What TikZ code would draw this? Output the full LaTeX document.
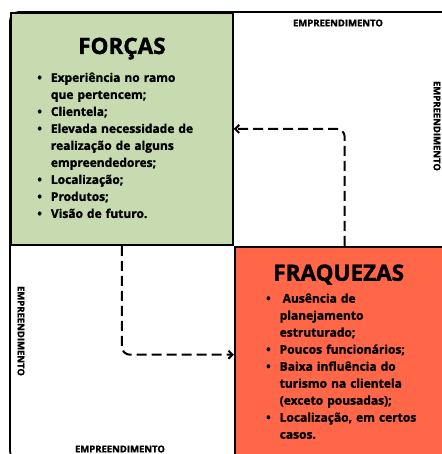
\documentclass[tikz,border=0pt]{standalone}
\usepackage{fontspec}
\setmainfont{Open Sans}[BoldFeatures={FakeBold=1.5}]
\usepackage{enumitem}
\usetikzlibrary{arrows.meta,positioning}
\definecolor{verdeforcas}{RGB}{199,218,176}
\definecolor{vermelhofraq}{RGB}{255,103,72}
\setlist[itemize]{label=\textbullet,leftmargin=13pt,labelsep=9pt,itemsep=0pt,topsep=0pt,parsep=0pt,partopsep=0pt}

\begin{document}
\begin{tikzpicture}[x=1pt,y=1pt,line width=1.8pt,
    quadrante/.style={draw,anchor=north west,inner sep=0pt},
    titulo/.style={font=\fontsize{22.5}{27}\selectfont\bfseries,anchor=base},
    lista/.style={font=\fontsize{12}{17}\selectfont\bfseries,text width=185pt,
        anchor=north west,inner sep=0pt,align=left},
    rotulo/.style={font=\fontsize{9.5}{11}\selectfont\bfseries},
    fluxo/.style={-{Straight Barb[length=4pt,width=8pt]},line width=2pt,dash pattern=on 10pt off 5pt,rounded corners=8pt}]
\useasboundingbox (0,0) rectangle (441,454);
% moldura
\draw[fill=white,rounded corners=9pt] (10,442) rectangle (452,-6);
\node[quadrante,fill=verdeforcas,minimum width=222pt,minimum height=232pt] (forcas) at (10,442) {};
\node[quadrante,fill=vermelhofraq,minimum width=220pt,minimum height=216pt] (fraquezas) at (forcas.south east) {};
% titulos
\node[titulo] (tforcas) at ([yshift=-42pt]forcas.north) {FORÇAS};
\node[titulo] (tfraq) at ([xshift=-6pt,yshift=-35pt]fraquezas.north) {FRAQUEZAS};
% listas
\node[lista] (lforcas) at ([xshift=27pt,yshift=-52pt]forcas.north west) {%
\begin{itemize}
\item Experiência no ramo\\que pertencem;
\item Clientela;
\item Elevada necessidade de\\realização de alguns\\empreendedores;
\item Localização;
\item Produtos;
\item Visão de futuro.
\end{itemize}};
\node[lista] (lfraq) at ([xshift=32pt,yshift=-39pt]fraquezas.north west) {%
\begin{itemize}
\item \hspace{3pt}Ausência de\\planejamento\\estruturado;
\item Poucos funcionários;
\item Baixa influência do\\turismo na clientela\\(exceto pousadas);
\item Localização, em certos\\casos.
\end{itemize}};
% rotulos
\node[rotulo] (rtopo) at (338,431) {EMPREENDIMENTO};
\node[rotulo,rotate=-90] (rdir) at (437,328) {EMPREENDIMENTO};
\node[rotulo,rotate=-90] (resq) at (21,123) {EMPREENDIMENTO};
\node[rotulo] (rbase) at (120,5) {EMPREENDIMENTO};
% setas
\draw[fluxo] (fraquezas.north) |- (forcas.east);
\draw[fluxo] (forcas.south) |- (fraquezas.west);
\end{tikzpicture}
\end{document}
